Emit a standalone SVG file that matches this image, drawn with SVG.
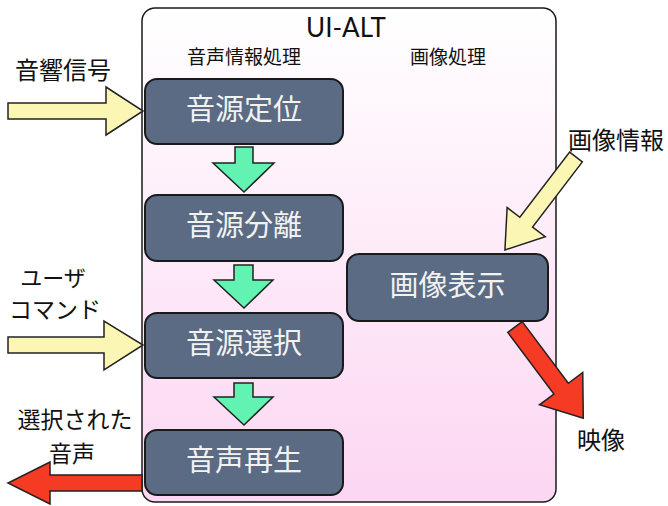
<svg xmlns="http://www.w3.org/2000/svg" width="668" height="506" viewBox="0 0 668 506">
<defs>
<linearGradient id="bg" x1="0" y1="0" x2="0" y2="1">
<stop offset="0" stop-color="#ffffff"/>
<stop offset="1" stop-color="#fcd6f2"/>
</linearGradient>
<style>
.jp{font-family:"Noto Sans CJK JP","Noto Sans",sans-serif;fill:#111}
.node rect{fill:#5a6b83;stroke:#1a1a1a;stroke-width:2}
.node text{font-family:"Noto Sans CJK JP","Noto Sans",sans-serif;font-size:29px;fill:#f2f2f2;text-anchor:middle}
.yel{fill:#fbf6b3;stroke:#222;stroke-width:1.5;stroke-linejoin:miter}
.grn{fill:#62f3b2;stroke:#222;stroke-width:1.5}
.red{fill:#f53b24;stroke:#222;stroke-width:1.5}
</style>
</defs>
<g id="container">
<rect x="142" y="8" width="414" height="494" rx="13" fill="url(#bg)" stroke="#1a1a1a" stroke-width="1.5"/>
<text x="346" y="37" font-family="Lato,'Liberation Sans',sans-serif" font-size="26" fill="#111" text-anchor="middle">UI-ALT</text>
<text x="244" y="64" class="jp" font-size="19" text-anchor="middle">音声情報処理</text>
<text x="448" y="64" class="jp" font-size="19" text-anchor="middle">画像処理</text>
</g>
<g id="connectors">
<path class="yel" d="M8,103 L106,103 L106,87 L143,111 L106,135 L106,119 L8,119 Z"/>
<path class="yel" d="M8,337 L104,337 L104,321 L143,345 L104,370 L104,353 L8,353 Z"/>
<path class="red" d="M142,475 L50,475 L50,462 L8,483 L50,504 L50,491 L142,491 Z"/>
<path class="grn" d="M235,147 L253,147 L253,163 L274,163 L244,192 L213,163 L235,163 Z"/>
<path class="grn" d="M234,265 L253,265 L253,280 L273,280 L244,308 L214,280 L234,280 Z"/>
<path class="grn" d="M234,383 L253,383 L253,397 L273,397 L244,425 L214,397 L234,397 Z"/>
<path class="yel" transform="translate(576,157) rotate(127.4)" d="M0,-8 L82,-8 L82,-24 L117,0 L82,24 L82,8 L0,8 Z"/>
<path class="red" transform="translate(515,327) rotate(53.2)" d="M0,-9 L77,-9 L77,-27 L114,0 L77,27 L77,9 L0,9 Z"/>
</g>
<g id="n1" class="node"><rect x="145" y="79" width="198" height="65" rx="12"/><text x="244" y="120">音源定位</text></g>
<g id="n2" class="node"><rect x="145" y="195" width="198" height="66" rx="12"/><text x="244" y="236">音源分離</text></g>
<g id="n3" class="node"><rect x="145" y="313" width="198" height="65" rx="12"/><text x="244" y="354">音源選択</text></g>
<g id="n4" class="node"><rect x="145" y="430" width="198" height="65" rx="12"/><text x="244" y="471">音声再生</text></g>
<g id="n5" class="node"><rect x="347" y="254" width="201" height="67" rx="12"/><text x="447.5" y="296">画像表示</text></g>
<g id="labels">
<text x="63" y="79" class="jp" font-size="24" text-anchor="middle">音響信号</text>
<text x="53" y="286" class="jp" font-size="22" text-anchor="middle">ユーザ</text>
<text x="55" y="318" class="jp" font-size="23" text-anchor="middle">コマンド</text>
<text x="75" y="428" class="jp" font-size="23" text-anchor="middle">選択された</text>
<text x="72" y="462" class="jp" font-size="23" text-anchor="middle">音声</text>
<text x="616" y="149" class="jp" font-size="24" text-anchor="middle">画像情報</text>
<text x="601" y="449" class="jp" font-size="24" text-anchor="middle">映像</text>
</g>
</svg>
